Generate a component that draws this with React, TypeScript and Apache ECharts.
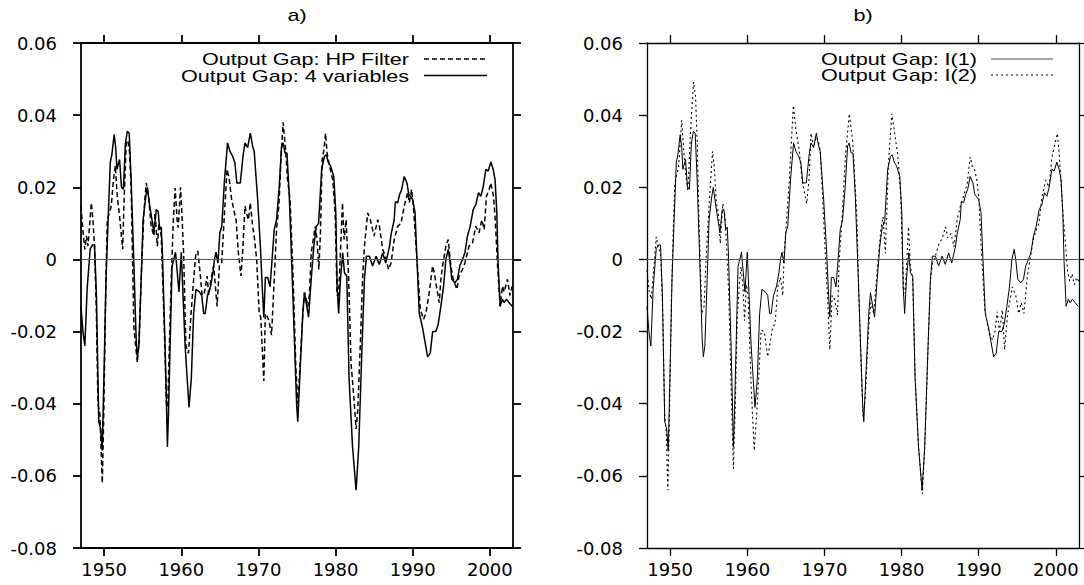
import React, { useEffect, useRef } from 'react';
import * as echarts from 'echarts';

const yearTicks = [1950, 1960, 1970, 1980, 1990, 2000];
const titles = ['a)', 'b)'];
const legendA = ['Output Gap: HP Filter', 'Output Gap: 4 variables'];
const legendB = ['Output Gap: I(1)', 'Output Gap: I(2)'];

// Output gap, 4 variables (solid) — also used as I(1) in panel b
const gap4Var: [number, number][] = [
  [1947.0, -0.013], [1947.25, -0.02], [1947.5, -0.024], [1947.8, -0.008], [1948.2, 0.003], [1948.5, 0.004],
  [1948.75, 0.004], [1949.0, -0.01], [1949.3, -0.045], [1949.55, -0.047], [1949.75, -0.053], [1950.0, -0.03],
  [1950.25, -0.005], [1950.5, 0.01], [1950.8, 0.027], [1951.0, 0.029], [1951.3, 0.0346], [1951.5, 0.031],
  [1951.65, 0.025], [1952.0, 0.0277], [1952.25, 0.02], [1952.5, 0.0195], [1952.75, 0.032], [1953.0, 0.0355],
  [1953.25, 0.035], [1953.5, 0.022], [1953.85, -0.001], [1954.15, -0.022], [1954.3, -0.027], [1954.5, -0.024],
  [1954.8, -0.0055], [1955.05, 0.011], [1955.4, 0.0175], [1955.6, 0.02], [1955.9, 0.015], [1956.2, 0.011],
  [1956.45, 0.0074], [1956.75, 0.0138], [1957.0, 0.0134], [1957.2, 0.0083], [1957.4, 0.009], [1957.55, 0.002],
  [1957.9, -0.024], [1958.1, -0.042], [1958.2, -0.052], [1958.35, -0.042], [1958.55, -0.024], [1958.8, -0.002],
  [1959.25, 0.002], [1959.7, -0.009], [1960.0, 0.002], [1960.5, -0.024], [1961.0, -0.041], [1961.3, -0.033],
  [1961.6, -0.015], [1961.9, -0.0083], [1962.35, -0.009], [1962.65, -0.01], [1962.9, -0.015], [1963.1, -0.015],
  [1963.4, -0.01], [1963.8, -0.0074], [1964.1, -0.0037], [1964.3, 0.0], [1964.5, 0.002], [1964.75, -0.001],
  [1965.0, 0.0074], [1965.25, 0.0092], [1965.6, 0.022], [1966.0, 0.0323], [1966.3, 0.03], [1966.65, 0.0286],
  [1966.95, 0.0268], [1967.2, 0.0212], [1967.65, 0.0212], [1968.0, 0.0286], [1968.25, 0.0323], [1968.6, 0.031],
  [1968.95, 0.035], [1969.25, 0.0314], [1969.45, 0.03], [1969.9, 0.0166], [1970.25, 0.0037], [1970.5, -0.008],
  [1970.7, -0.016], [1970.9, -0.005], [1971.2, -0.005], [1971.5, -0.0076], [1971.7, -0.002], [1972.05, 0.0083],
  [1972.35, 0.011], [1972.7, 0.0203], [1973.0, 0.0314], [1973.2, 0.0323], [1973.45, 0.0295], [1973.7, 0.0295],
  [1974.0, 0.0175], [1974.4, -0.006], [1974.95, -0.04], [1975.1, -0.045], [1975.45, -0.0286], [1975.75, -0.015],
  [1975.97, -0.0092], [1976.5, -0.016], [1976.84, -0.0055], [1977.18, 0.0037], [1977.5, 0.0092], [1977.8, 0.01],
  [1978.2, 0.025], [1978.56, 0.0286], [1978.78, 0.029], [1979.08, 0.0268], [1979.34, 0.026], [1979.77, 0.023],
  [1980.03, 0.013], [1980.2, -0.0074], [1980.4, -0.015], [1980.63, -0.0055], [1980.93, 0.0018], [1981.15, -0.0037],
  [1981.45, -0.0046], [1981.75, -0.033], [1982.2, -0.052], [1982.66, -0.064], [1983.0, -0.052], [1983.43, -0.024],
  [1983.74, -0.0055], [1984.0, 0.0009], [1984.38, 0.0009], [1984.8, -0.0018], [1985.25, 0.0009], [1985.67, -0.0014],
  [1986.1, 0.0018], [1986.5, -0.001], [1987.0, 0.0037], [1987.2, 0.007], [1987.6, 0.011], [1987.75, 0.016],
  [1988.05, 0.0157], [1988.3, 0.018], [1988.57, 0.0194], [1988.9, 0.023], [1989.25, 0.0212], [1989.5, 0.018],
  [1989.68, 0.0175], [1990.0, 0.0166], [1990.3, 0.013], [1990.55, 0.0], [1990.85, -0.015], [1991.28, -0.019],
  [1991.93, -0.027], [1992.27, -0.026], [1992.58, -0.02], [1993.0, -0.02], [1993.3, -0.018], [1993.65, -0.013],
  [1994.0, -0.0074], [1994.3, 0.0], [1994.6, 0.0028], [1994.8, 0.0], [1995.07, -0.0055], [1995.46, -0.0065],
  [1995.8, -0.0055], [1996.1, -0.0018], [1996.45, 0.0], [1996.76, 0.0018], [1997.1, 0.0065], [1997.45, 0.0092],
  [1997.84, 0.0138], [1998.18, 0.0152], [1998.53, 0.0185], [1998.83, 0.0175], [1999.13, 0.02], [1999.48, 0.025],
  [1999.78, 0.0245], [2000.13, 0.027], [2000.43, 0.025], [2000.68, 0.022], [2000.9, 0.013], [2001.07, -0.0009],
  [2001.33, -0.013], [2001.63, -0.011], [2001.85, -0.012], [2002.15, -0.011], [2002.5, -0.012], [2002.9, -0.013],
];

// Output gap, HP filter (dashed)
const gapHP: [number, number][] = [
  [1947.0, 0.0148], [1947.25, 0.008], [1947.5, 0.0028], [1947.7, 0.0065], [1947.9, 0.0037], [1948.34, 0.0157],
  [1948.55, 0.011], [1948.75, 0.0037], [1948.98, -0.013], [1949.2, -0.04], [1949.45, -0.043], [1949.76, -0.062],
  [1949.95, -0.043], [1950.15, -0.015], [1950.4, 0.011], [1950.7, 0.013], [1950.92, 0.0148], [1951.2, 0.022],
  [1951.44, 0.026], [1951.7, 0.0175], [1952.0, 0.012], [1952.4, 0.0028], [1952.56, 0.0148], [1952.86, 0.0323],
  [1953.08, 0.033], [1953.3, 0.0295], [1953.5, 0.02], [1953.86, -0.019], [1954.3, -0.0286], [1954.55, -0.022],
  [1954.8, -0.0055], [1955.15, 0.013], [1955.45, 0.0212], [1955.75, 0.0175], [1956.1, 0.0092], [1956.45, 0.0065],
  [1956.6, 0.013], [1956.9, 0.0037], [1957.1, 0.01], [1957.4, 0.0065], [1957.74, -0.015], [1958.1, -0.041],
  [1958.25, -0.04], [1958.45, -0.024], [1958.7, -0.0055], [1958.95, 0.01], [1959.2, 0.0198], [1959.46, 0.011],
  [1959.6, 0.0088], [1959.9, 0.02], [1960.07, 0.013], [1960.3, 0.0018], [1960.6, -0.024], [1960.93, -0.026],
  [1961.27, -0.015], [1961.6, -0.0055], [1961.9, 0.0018], [1962.14, 0.0023], [1962.44, -0.0037], [1962.7, -0.01],
  [1963.0, -0.0092], [1963.35, -0.0046], [1963.56, -0.01], [1963.86, -0.0055], [1964.2, -0.0018], [1964.64, -0.013],
  [1964.94, -0.0018], [1965.24, -0.0009], [1965.6, 0.013], [1965.93, 0.025], [1966.23, 0.022], [1966.53, 0.0166],
  [1966.88, 0.013], [1967.1, 0.011], [1967.4, 0.0018], [1967.74, -0.0046], [1968.0, 0.0037], [1968.26, 0.0148],
  [1968.45, 0.0129], [1968.7, 0.011], [1968.95, 0.0157], [1969.25, 0.0092], [1969.45, 0.0065], [1969.77, 0.0],
  [1970.1, -0.015], [1970.3, -0.016], [1970.7, -0.0337], [1970.9, -0.015], [1971.2, -0.016], [1971.45, -0.018],
  [1971.7, -0.021], [1972.05, -0.0055], [1972.35, 0.0083], [1972.65, 0.0148], [1972.9, 0.0268], [1973.2, 0.038],
  [1973.5, 0.031], [1973.78, 0.022], [1974.1, 0.0166], [1974.5, -0.005], [1974.85, -0.03], [1975.1, -0.04],
  [1975.3, -0.033], [1975.76, -0.015], [1975.97, -0.0092], [1976.2, -0.011], [1976.4, -0.013], [1976.6, -0.01],
  [1976.84, 0.0018], [1977.18, 0.0065], [1977.35, 0.0092], [1977.6, 0.0055], [1977.83, -0.0028], [1978.04, 0.0074],
  [1978.26, 0.0277], [1978.5, 0.0305], [1978.7, 0.035], [1978.9, 0.0295], [1979.2, 0.026], [1979.64, 0.022],
  [1979.94, 0.013], [1980.2, -0.01], [1980.4, -0.01], [1980.9, 0.0157], [1981.1, 0.0055], [1981.37, 0.011],
  [1981.7, -0.0055], [1982.0, -0.0286], [1982.36, -0.038], [1982.66, -0.047], [1982.87, -0.042], [1983.2, -0.024],
  [1983.5, -0.0055], [1983.74, 0.0037], [1984.17, 0.0129], [1984.5, 0.011], [1985.0, 0.0065], [1985.46, 0.011],
  [1985.7, 0.009], [1986.1, 0.0028], [1986.3, 0.0018], [1986.88, -0.0028], [1987.2, -0.0009], [1987.6, 0.0055],
  [1988.05, 0.0092], [1988.48, 0.01], [1988.9, 0.0148], [1989.34, 0.0185], [1989.56, 0.0157], [1989.86, 0.0194],
  [1990.12, 0.0138], [1990.55, 0.0], [1990.98, -0.0138], [1991.4, -0.0166], [1991.7, -0.015], [1992.14, -0.0092],
  [1992.58, -0.0018], [1992.8, -0.0037], [1993.14, -0.0083], [1993.44, -0.012], [1993.65, -0.0055], [1993.87, -0.0018],
  [1994.3, 0.0037], [1994.6, 0.0055], [1994.95, -0.0018], [1995.25, -0.0055], [1995.72, -0.0083], [1996.0, -0.0046],
  [1996.45, -0.0028], [1996.76, -0.001], [1997.3, 0.0037], [1997.75, 0.0046], [1998.18, 0.0092], [1998.6, 0.0074],
  [1998.96, 0.011], [1999.26, 0.0083], [1999.56, 0.0175], [1999.9, 0.0194], [2000.13, 0.0212], [2000.47, 0.0175],
  [2000.7, 0.011], [2001.0, -0.0018], [2001.33, -0.013], [2001.63, -0.0074], [2001.85, -0.009], [2002.28, -0.0055],
  [2002.6, -0.01], [2002.9, -0.0074],
];

const gapI1 = gap4Var;

// Output gap, I(2) (dotted)
const gapI2: [number, number][] = [
  [1947.0, -0.003], [1947.3, -0.009], [1947.55, -0.011], [1947.9, -0.002], [1948.2, 0.0063], [1948.5, 0.003],
  [1948.75, 0.002], [1949.0, -0.012], [1949.3, -0.0436], [1949.5, -0.048], [1949.7, -0.064], [1949.9, -0.045],
  [1950.15, -0.012], [1950.4, 0.008], [1950.6, 0.021], [1951.1, 0.0257], [1951.5, 0.0386], [1951.7, 0.032],
  [1952.0, 0.024], [1952.3, 0.019], [1952.65, 0.036], [1953.04, 0.0492], [1953.3, 0.045], [1953.5, 0.033],
  [1953.75, 0.01], [1954.1, -0.015], [1954.4, -0.013], [1954.7, 0.002], [1955.1, 0.017], [1955.5, 0.03],
  [1955.7, 0.026], [1956.0, 0.0155], [1956.25, 0.013], [1956.5, 0.0044], [1956.83, 0.0155], [1957.1, 0.012],
  [1957.35, 0.002], [1957.6, -0.01], [1957.9, -0.035], [1958.2, -0.058], [1958.45, -0.04], [1958.7, -0.016],
  [1959.0, -0.006], [1959.2, -0.002], [1959.45, -0.008], [1959.65, -0.017], [1959.9, -0.007], [1960.1, -0.01],
  [1960.5, -0.035], [1960.9, -0.053], [1961.3, -0.04], [1961.8, -0.0196], [1962.2, -0.02], [1962.65, -0.027],
  [1963.3, -0.0186], [1963.6, -0.018], [1963.95, -0.0076], [1964.3, -0.005], [1964.6, -0.01], [1964.8, 0.0026],
  [1965.0, 0.008], [1965.45, 0.022], [1965.97, 0.0427], [1966.3, 0.036], [1966.75, 0.03], [1967.1, 0.022],
  [1967.45, 0.018], [1967.7, 0.0155], [1968.0, 0.022], [1968.26, 0.035], [1968.6, 0.031], [1968.9, 0.034],
  [1969.2, 0.033], [1969.47, 0.03], [1969.75, 0.018], [1970.1, 0.002], [1970.4, -0.01], [1970.7, -0.025],
  [1971.0, -0.01], [1971.3, -0.011], [1971.7, -0.0154], [1971.9, -0.001], [1972.3, 0.012], [1972.7, 0.028],
  [1973.22, 0.0404], [1973.65, 0.033], [1973.9, 0.024], [1974.2, 0.012], [1974.6, -0.02], [1975.0, -0.0436],
  [1975.3, -0.038], [1975.7, -0.02], [1976.0, -0.012], [1976.4, -0.015], [1976.8, -0.004], [1977.3, 0.008],
  [1977.6, 0.0118], [1977.9, 0.0017], [1978.3, 0.0266], [1978.74, 0.0404], [1979.05, 0.0358], [1979.5, 0.029],
  [1979.9, 0.0174], [1980.1, 0.002], [1980.3, -0.0094], [1980.5, -0.008], [1980.9, 0.009], [1981.15, -0.002],
  [1981.45, -0.006], [1981.75, -0.032], [1982.2, -0.052], [1982.7, -0.065], [1983.0, -0.052], [1983.43, -0.025],
  [1983.74, -0.006], [1984.0, -0.001], [1984.4, 0.001], [1984.87, 0.0044], [1985.3, 0.006], [1985.7, 0.009],
  [1986.0, 0.006], [1986.4, 0.0072], [1986.8, 0.0035], [1987.2, 0.011], [1987.7, 0.0155], [1988.1, 0.018],
  [1988.5, 0.021], [1988.9, 0.0284], [1989.2, 0.0256], [1989.5, 0.0247], [1989.75, 0.022], [1990.0, 0.0174],
  [1990.4, 0.0], [1990.8, -0.014], [1991.3, -0.02], [1991.8, -0.0223], [1992.1, -0.02], [1992.4, -0.0145],
  [1992.7, -0.02], [1993.06, -0.014], [1993.36, -0.025], [1993.7, -0.016], [1994.0, -0.012], [1994.35, -0.0076],
  [1994.8, -0.01], [1995.2, -0.015], [1995.5, -0.012], [1995.86, -0.015], [1996.3, -0.0048], [1996.7, 0.0007],
  [1997.15, 0.0063], [1997.8, 0.01], [1998.2, 0.0174], [1998.7, 0.022], [1999.1, 0.02], [1999.5, 0.0284],
  [1999.87, 0.032], [2000.2, 0.0349], [2000.4, 0.03], [2000.6, 0.024], [2000.9, 0.013], [2001.25, 0.0044],
  [2001.5, -0.003], [2001.8, -0.006], [2002.1, -0.004], [2002.4, -0.007], [2002.7, -0.005], [2002.95, -0.006],
];

const TICK_FONT = 'DejaVu Sans';
const TEXT_FONT = '17px "Liberation Sans", Arial, sans-serif';
const TICK_COLOR = '#000';

function makeX(gridIndex: number, position: 'top' | 'bottom', lw: number) {
  return {
    type: 'value',
    gridIndex,
    position,
    min: 1947,
    max: 2003,
    axisLine: { show: true, onZero: false, lineStyle: { color: '#000', width: lw } },
    axisTick: { show: true, inside: false, length: 8, customValues: yearTicks, lineStyle: { color: TICK_COLOR, width: lw } },
    axisLabel: {
      show: position === 'bottom',
      customValues: yearTicks,
      margin: 12,
      color: '#000',
      fontSize: 18,
      fontFamily: TICK_FONT,
      formatter: (v: number) => String(Math.round(v)),
    },
    splitLine: { show: false },
  };
}

function makeY(gridIndex: number, position: 'left' | 'right', lw: number) {
  return {
    type: 'value',
    gridIndex,
    position,
    min: -0.08,
    max: 0.06,
    interval: 0.02,
    axisLine: { show: true, onZero: false, lineStyle: { color: '#000', width: lw } },
    axisTick: { show: true, inside: false, length: 8, lineStyle: { color: TICK_COLOR, width: lw } },
    axisLabel: {
      show: position === 'left',
      margin: 24,
      color: '#000',
      fontSize: 18,
      fontFamily: TICK_FONT,
      formatter: (v: number) => (Math.abs(v) < 1e-9 ? '0' : v.toFixed(2)),
    },
    splitLine: { show: false },
  };
}

const zeroLine = {
  silent: true,
  symbol: ['none', 'none'],
  label: { show: false },
  lineStyle: { color: '#555', width: 1, type: 'solid' },
  data: [{ yAxis: 0 }],
};

export default function App() {
  const ref = useRef<HTMLDivElement>(null);
  useEffect(() => {
    const chart = echarts.init(ref.current as HTMLDivElement, null, { renderer: 'svg' });
    const sx = 1.27;
    const option: any = {
      animation: false,
      backgroundColor: '#fff',
      grid: [
        { left: 81, top: 43, width: 432, height: 505, containLabel: false, outerBoundsMode: 'none' },
        { left: 647, top: 43, width: 432, height: 505, containLabel: false, outerBoundsMode: 'none' },
      ],
      xAxis: [makeX(0, 'bottom', 1.8), makeX(0, 'top', 1.8), makeX(1, 'bottom', 1.3), makeX(1, 'top', 1.3)],
      yAxis: [makeY(0, 'left', 1.8), makeY(0, 'right', 1.8), makeY(1, 'left', 1.3), makeY(1, 'right', 1.3)],
      series: [
        {
          name: legendA[0], type: 'line', xAxisIndex: 0, yAxisIndex: 0, data: gapHP,
          showSymbol: false, symbol: 'none', lineStyle: { color: '#000', width: 1.5, type: [5, 3] },
          markLine: zeroLine,
        },
        {
          name: legendA[1], type: 'line', xAxisIndex: 0, yAxisIndex: 0, data: gap4Var,
          showSymbol: false, symbol: 'none', lineStyle: { color: '#000', width: 1.5 },
        },
        {
          name: legendB[0], type: 'line', xAxisIndex: 2, yAxisIndex: 2, data: gapI1,
          showSymbol: false, symbol: 'none', lineStyle: { color: '#000', width: 1 },
          markLine: zeroLine,
        },
        {
          name: legendB[1], type: 'line', xAxisIndex: 2, yAxisIndex: 2, data: gapI2,
          showSymbol: false, symbol: 'none', lineStyle: { color: '#000', width: 1.1, type: [2, 3] },
        },
      ],
      graphic: [
        { type: 'text', x: 297, y: 15, scaleX: sx, style: { text: titles[0], font: TEXT_FONT, fill: '#000', align: 'center', verticalAlign: 'middle' } },
        { type: 'text', x: 863, y: 15, scaleX: sx, style: { text: titles[1], font: TEXT_FONT, fill: '#000', align: 'center', verticalAlign: 'middle' } },
        { type: 'text', x: 409, y: 59, scaleX: sx, style: { text: legendA[0], font: TEXT_FONT, fill: '#000', align: 'right', verticalAlign: 'middle' } },
        { type: 'text', x: 409, y: 75.5, scaleX: sx, style: { text: legendA[1], font: TEXT_FONT, fill: '#000', align: 'right', verticalAlign: 'middle' } },
        { type: 'line', shape: { x1: 424, y1: 59, x2: 487, y2: 59 }, style: { stroke: '#000', lineWidth: 1.5, lineDash: [5, 3] } },
        { type: 'line', shape: { x1: 424, y1: 75.5, x2: 487, y2: 75.5 }, style: { stroke: '#000', lineWidth: 1.5 } },
        { type: 'text', x: 977, y: 59, scaleX: sx, style: { text: legendB[0], font: TEXT_FONT, fill: '#000', align: 'right', verticalAlign: 'middle' } },
        { type: 'text', x: 977, y: 75, scaleX: sx, style: { text: legendB[1], font: TEXT_FONT, fill: '#000', align: 'right', verticalAlign: 'middle' } },
        { type: 'line', shape: { x1: 991, y1: 59, x2: 1053, y2: 59 }, style: { stroke: '#888', lineWidth: 1.5 } },
        { type: 'line', shape: { x1: 991, y1: 75, x2: 1053, y2: 75 }, style: { stroke: '#000', lineWidth: 1, lineDash: [2, 3] } },
      ],
    };
    chart.setOption(option);
    return () => chart.dispose();
  }, []);
  return (
    <div
      ref={ref}
      style={{ position: 'absolute', left: 0, top: 0, width: 1084, height: 585, background: '#fff' }}
    />
  );
}
